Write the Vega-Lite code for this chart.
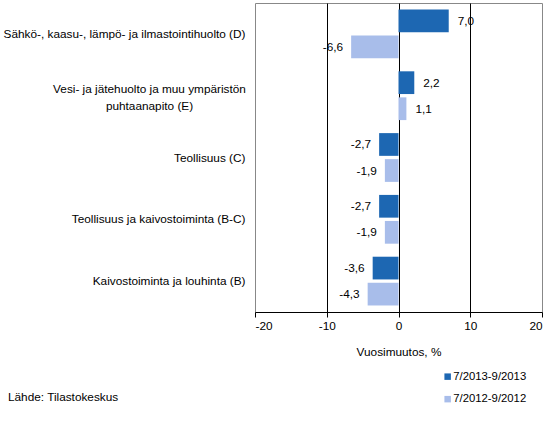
{
  "$schema": "https://vega.github.io/schema/vega-lite/v6.json",
  "width": 287,
  "height": 309,
  "autosize": {"type": "none"},
  "padding": {"left": 255, "top": 3, "right": 16, "bottom": 110},
  "background": "white",
  "data": {
    "values": [
      {"cat": "Sähkö-, kaasu-, lämpö- ja ilmastointihuolto (D)", "series": "7/2013-9/2013", "value": 7.0},
      {"cat": "Sähkö-, kaasu-, lämpö- ja ilmastointihuolto (D)", "series": "7/2012-9/2012", "value": -6.6},
      {"cat": "Vesi- ja jätehuolto ja muu ympäristön|puhtaanapito (E)", "series": "7/2013-9/2013", "value": 2.2},
      {"cat": "Vesi- ja jätehuolto ja muu ympäristön|puhtaanapito (E)", "series": "7/2012-9/2012", "value": 1.1},
      {"cat": "Teollisuus (C)", "series": "7/2013-9/2013", "value": -2.7},
      {"cat": "Teollisuus (C)", "series": "7/2012-9/2012", "value": -1.9},
      {"cat": "Teollisuus ja kaivostoiminta (B-C)", "series": "7/2013-9/2013", "value": -2.7},
      {"cat": "Teollisuus ja kaivostoiminta (B-C)", "series": "7/2012-9/2012", "value": -1.9},
      {"cat": "Kaivostoiminta ja louhinta (B)", "series": "7/2013-9/2013", "value": -3.6},
      {"cat": "Kaivostoiminta ja louhinta (B)", "series": "7/2012-9/2012", "value": -4.3}
    ]
  },
  "title": {
    "text": "Lähde: Tilastokeskus",
    "orient": "bottom",
    "anchor": "start",
    "frame": "group",
    "dx": -247,
    "offset": 3,
    "dy": -16,
    "fontSize": 11.8,
    "fontWeight": "normal",
    "color": "black",
    "font": "Liberation Sans"
  },
  "encoding": {
    "y": {
      "field": "cat",
      "type": "nominal",
      "sort": [
        "Sähkö-, kaasu-, lämpö- ja ilmastointihuolto (D)",
        "Vesi- ja jätehuolto ja muu ympäristön|puhtaanapito (E)",
        "Teollisuus (C)",
        "Teollisuus ja kaivostoiminta (B-C)",
        "Kaivostoiminta ja louhinta (B)"
      ],
      "scale": {"paddingInner": 0, "paddingOuter": 0},
      "title": null,
      "axis": {
        "domain": false,
        "ticks": false,
        "grid": false,
        "labelExpr": "split(datum.label, '|')",
        "labelLimit": 400,
        "labelLineHeight": 17,
        "labelAlign": {"condition": {"test": "indexof(datum.value, '|') >= 0", "value": "center"}, "value": "right"},
        "labelPadding": {"condition": {"test": "indexof(datum.value, '|') >= 0", "value": 106}, "value": 10},
        "labelOffset": {"condition": {"test": "indexof(datum.value, '|') >= 0", "value": -7}, "value": 0}
      }
    },
    "yOffset": {
      "field": "series",
      "type": "nominal",
      "sort": ["7/2013-9/2013", "7/2012-9/2012"],
      "scale": {"paddingInner": 0.127, "paddingOuter": 0.25}
    },
    "x": {
      "field": "value",
      "type": "quantitative",
      "scale": {"domain": [-20, 20], "nice": false, "zero": false},
      "title": "Vuosimuutos, %",
      "axis": {
        "values": [-20, -10, 0, 10, 20],
        "format": "d",
        "domainColor": "black",
        "tickColor": "black",
        "tickSize": 5,
        "labelPadding": 3,
        "grid": true,
        "gridColor": {"condition": {"test": "abs(datum.value) == 20", "value": "transparent"}, "value": "black"},
        "gridOpacity": 1,
        "titlePadding": 15,
        "titleFontWeight": "normal"
      }
    }
  },
  "layer": [
    {
      "mark": {"type": "bar"},
      "encoding": {
        "color": {
          "field": "series",
          "type": "nominal",
          "sort": ["7/2013-9/2013", "7/2012-9/2012"],
          "scale": {"domain": ["7/2013-9/2013", "7/2012-9/2012"], "range": ["#1d67b2", "#a8bdea"]},
          "legend": {
            "title": null,
            "orient": "none",
            "legendX": 187,
            "legendY": 368,
            "symbolType": "square",
            "symbolSize": 42,
            "symbolStrokeWidth": 0,
            "labelOffset": 0,
            "rowPadding": 10.5,
            "padding": 0,
            "labelFontSize": 11.3,
            "labelColor": "black"
          }
        }
      }
    },
    {
      "mark": {
        "type": "text",
        "fontSize": 11.8,
        "color": "black",
        "align": {"expr": "datum.value < 0 ? 'right' : 'left'"},
        "dx": {"expr": "datum.value < 0 ? -8 : 9"}
      },
      "encoding": {
        "text": {"field": "value", "type": "quantitative", "format": ".1f"}
      }
    }
  ],
  "config": {
    "font": "Liberation Sans",
    "locale": {
      "number": {"decimal": ",", "thousands": " ", "grouping": [3], "currency": ["", " €"], "minus": "-"}
    },
    "view": {"stroke": "#888888", "strokeWidth": 1},
    "axis": {
      "labelFontSize": 11.8,
      "titleFontSize": 11.8,
      "labelColor": "black",
      "titleColor": "black",
      "labelFont": "Liberation Sans",
      "titleFont": "Liberation Sans"
    },
    "legend": {"labelFont": "Liberation Sans"}
  }
}
